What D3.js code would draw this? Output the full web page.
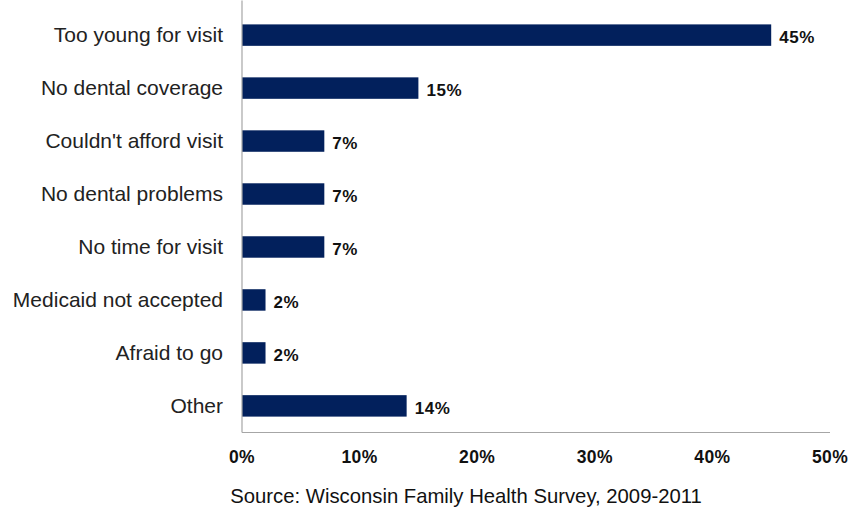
<!DOCTYPE html>
<html>
<head>
<meta charset="utf-8">
<script src="https://cdn.jsdelivr.net/npm/d3@7"></script>
<style>
  html, body { margin: 0; padding: 0; background: #ffffff; }
  svg { display: block; }
</style>
</head>
<body>
<svg id="chart" width="853" height="510"></svg>
<script>
// Reasons for no dental visit
const categories = [
  "Too young for visit",
  "No dental coverage",
  "Couldn't afford visit",
  "No dental problems",
  "No time for visit",
  "Medicaid not accepted",
  "Afraid to go",
  "Other"
];
const values = [45, 15, 7, 7, 7, 2, 2, 14];
const tickValues = [0, 10, 20, 30, 40, 50];
const sourceNote = "Source: Wisconsin Family Health Survey, 2009-2011";

const svg = d3.select("#chart");
const plotLeft = 242, plotRight = 830, plotTop = 8.5, plotBottom = 432.5;

const x = d3.scaleLinear().domain([0, 50]).range([plotLeft, plotRight]);
const y = d3.scaleBand().domain(categories).range([plotTop, plotBottom]).paddingInner(0.595).paddingOuter(0.3);

const barColor = "#02205c";
const font = "'Liberation Sans', Arial, sans-serif";

// bars
svg.append("g").selectAll("rect")
  .data(categories)
  .join("rect")
  .attr("x", x(0))
  .attr("y", d => y(d))
  .attr("width", (d, i) => x(values[i]) - x(0))
  .attr("height", y.bandwidth())
  .attr("fill", barColor);

// value labels
svg.append("g").selectAll("text")
  .data(categories)
  .join("text")
  .attr("x", (d, i) => x(values[i]) + 8)
  .attr("y", d => y(d) + y.bandwidth() / 2)
  .attr("dy", "0.48em")
  .attr("font-family", font)
  .attr("font-weight", "bold")
  .attr("font-size", 17)
  .attr("letter-spacing", 0.6)
  .attr("fill", "#111")
  .text((d, i) => values[i] + "%");

// category labels
svg.append("g").selectAll("text")
  .data(categories)
  .join("text")
  .attr("x", plotLeft - 19)
  .attr("y", d => y(d) + y.bandwidth() / 2)
  .attr("dy", "0.33em")
  .attr("text-anchor", "end")
  .attr("font-family", font)
  .attr("font-size", 21)
  .attr("fill", "#222")
  .text(d => d);

// axis lines
svg.append("line")
  .attr("x1", plotLeft).attr("x2", plotLeft)
  .attr("y1", plotTop - 8).attr("y2", plotBottom)
  .attr("stroke", "#a6a6a6").attr("stroke-width", 1.2);
svg.append("line")
  .attr("x1", plotLeft).attr("x2", plotRight)
  .attr("y1", plotBottom).attr("y2", plotBottom)
  .attr("stroke", "#a6a6a6").attr("stroke-width", 1.2);

// x tick labels
svg.append("g").selectAll("text")
  .data(tickValues)
  .join("text")
  .attr("x", d => x(d))
  .attr("y", 463)
  .attr("text-anchor", "middle")
  .attr("font-family", font)
  .attr("font-weight", "bold")
  .attr("font-size", 17.5)
  .attr("letter-spacing", 0.4)
  .attr("fill", "#111")
  .text(d => d + "%");

// source note
svg.append("text")
  .attr("x", 466)
  .attr("y", 503)
  .attr("text-anchor", "middle")
  .attr("font-family", font)
  .attr("font-size", 20.3)
  .attr("fill", "#111")
  .text(sourceNote);
</script>
</body>
</html>
